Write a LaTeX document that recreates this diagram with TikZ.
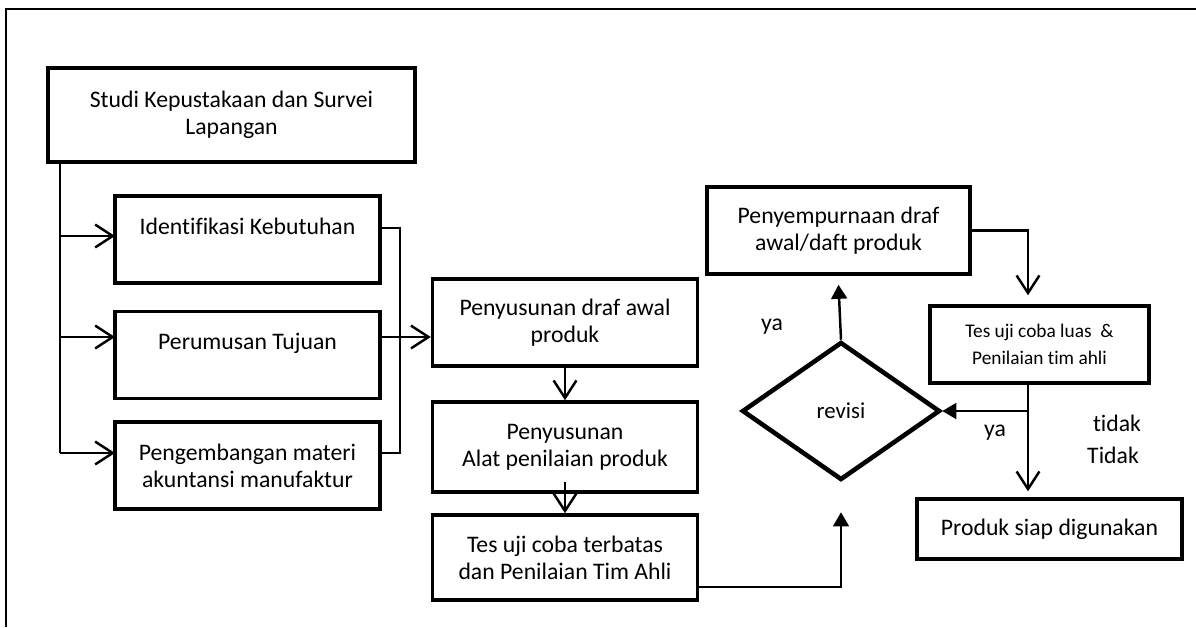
\documentclass[tikz,border=0pt]{standalone}
\usepackage{fontspec}
\setmainfont[Ligatures=NoCommon]{Carlito}
\usetikzlibrary{shapes.geometric,arrows.meta,calc}
\tikzstyle{box}=[rectangle,draw,line width=2pt,align=center,inner sep=2pt,font=\fontsize{13.5}{15.3}\selectfont]
\tikzstyle{stepbox}=[box,minimum width=5.3cm,minimum height=1.74cm]
\tikzstyle{decision}=[diamond,draw,line width=2.6pt,inner sep=0pt,minimum width=3.96cm,minimum height=2.76cm,font=\fontsize{13}{15}\selectfont]
\tikzstyle{note}=[inner sep=0pt,font=\fontsize{13.5}{15}\selectfont]
\tikzstyle{link}=[draw,line width=0.7pt]
\tikzstyle{flow}=[draw,line width=1.4pt,-{Straight Barb[length=10pt,width=13pt]}]
\tikzstyle{push}=[draw,line width=1.4pt,-{Triangle[length=8pt,width=9pt]}]

\begin{document}
\begin{tikzpicture}[x=0.02cm,y=-0.02cm]
\useasboundingbox (0,0) rectangle (1196,627);
\draw[line width=1.2pt] (1196,9) -- (6,9) -- (6,627);

% left column
\path node[box,minimum width=7.34cm,minimum height=1.88cm] (studi) at (231.5,115) {Studi Kepustakaan dan Survei\\Lapangan};
\path (247.5,239.5) node[stepbox] (kebutuhan) {Identifikasi Kebutuhan\\~}
    ++ (0,115.5) node[stepbox] (tujuan) {Perumusan Tujuan\\~}
    ++ (0,110.5) node[stepbox] (materi) {Pengembangan materi\\akuntansi manufaktur};

% middle column
\path (565,322.5) node[stepbox] (draf) {Penyusunan draf awal\\produk}
    ++ (0,124.5) node[stepbox,minimum height=1.8cm] (alat) {Penyusunan\\Alat penilaian produk}
    ++ (0,110.5) node[stepbox,minimum height=1.7cm] (terbatas) {Tes uji coba terbatas\\dan Penilaian Tim Ahli};

% right part
\node[decision] (revisi) at (841,411) {revisi};
\node[stepbox,minimum width=5.26cm] (sempurna) at (838.5,230.5) {Penyempurnaan draf\\awal/daft produk};
\node[box,minimum width=4.38cm,minimum height=1.54cm,font=\fontsize{11}{15.3}\selectfont] (luas) at (1039.5,344.5) {Tes uji coba luas~~\&\\Penilaian tim ahli};
\node[box,minimum width=5.3cm,minimum height=1.2cm] (siap) at (1049.5,529) {Produk siap digunakan};

\node[note] (ya1) at (772,327) {ya};
\node[note] (ya2) at (995,433) {ya};
\node[note] (tidak1) at (1117,423) {tidak};
\node[note] (tidak2) at (1113,455) {Tidak};

% connectors, left
\coordinate (spinetop) at (60,162);
\coordinate (spinebot) at (60,453);
\coordinate (in1) at (115,236);
\coordinate (in2) at (115,337);
\coordinate (in3) at (115,453);
\draw[link] (spinetop) -- (spinebot);
\draw[flow] (spinetop |- in1) -- (in1);
\draw[flow] (spinetop |- in2) -- (in2);
\draw[flow] (spinebot) -- (in3);

\coordinate (out1) at (380,228);
\coordinate (out2) at (380,337);
\coordinate (out3) at (380,453);
\draw[link] (out1) -- ++(20,0) |- (out3);
\draw[flow] (out2) -- (out2 -| draf.west);

% connectors, middle
\draw[flow] (draf.south) -- (alat.north);
\draw[flow] ([yshift=0.24cm]alat.south) -- (terbatas.north);
\coordinate (below) at ([yshift=-0.6cm]revisi.south);
\draw[push,line width=1pt] ([yshift=-0.59cm]terbatas.east) -| (below);

% connectors, right
\draw[push] (revisi.north) -- ([yshift=-0.18cm]sempurna.south);
\draw[flow] (sempurna.east) -| ([xshift=-0.23cm,yshift=0.18cm]luas.north);
\coordinate (split) at (1028,411);
\draw[link] (split |- luas.south) -- (split);
\draw[push] (split) -- (revisi.east);
\draw[flow] (split) -- ([yshift=0.12cm]split |- siap.north);
\end{tikzpicture}
\end{document}
